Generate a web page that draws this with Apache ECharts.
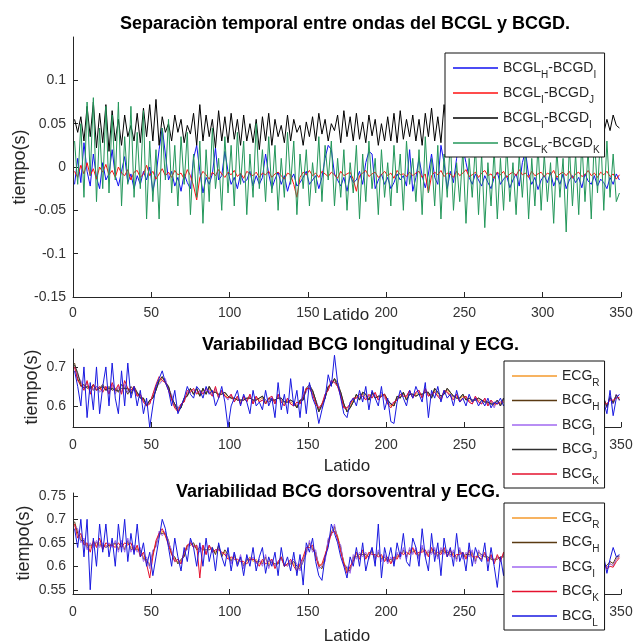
<!DOCTYPE html>
<html>
<head>
<meta charset="utf-8">
<script src="https://cdn.jsdelivr.net/npm/echarts@6/dist/echarts.min.js"></script>
<style>
  html, body { margin: 0; padding: 0; background: #fff; }
  #chart { width: 635px; height: 642px; }
</style>
</head>
<body>
<div id="chart"></div>
<script>
// Beat numbers (every second beat is stored)
const beats = [];
for (let b = 1; b <= 349; b += 2) beats.push(b);

// ---- Top panel: time separation BCGL - BCGD (milliseconds) ----
const sepLH_DI = [
  -20,10,-18,28,-5,-22,15,-12,-25,5,
  -15,-8,20,-10,-22,-5,12,-18,-8,-25,
  -10,-20,-5,-15,0,-28,-10,20,45,15,
  -15,-5,-22,-12,-28,-8,-18,-25,10,25,
  -5,-30,-12,-20,-8,22,-15,-10,18,-5,
  -20,-12,-25,-8,-18,-15,-5,-22,-10,-20,
  -12,15,-8,-25,-14,-6,-20,-10,-28,-15,
  -8,-22,-18,-12,-5,-20,-15,-10,-25,-12,
  10,25,20,-8,-15,-22,-12,-28,-10,-18,
  -15,-5,-20,5,18,15,-25,-15,-8,-20,
  -12,-25,-18,-8,-15,-10,-22,20,-28,-12,
  10,-10,-24,-8,15,-12,-20,25,5,-25,
  -5,-18,10,28,22,5,-12,-20,-8,-15,
  -22,-10,-18,-25,-12,-6,-20,-14,-10,-24,
  -15,-8,-22,5,18,-10,-20,-12,-26,-15,
  -10,-18,-6,-22,-12,-20,-8,-25,-15,-10,
  -18,-12,-24,-8,-16,-20,-10,-22,-14,-18,
  -25,-12,-20,-8,-15
];
const sepLI_DJ = [
  -5,-12,2,-8,5,-10,-2,-14,0,-6,
  3,-9,-4,-12,0,-7,-10,-3,-15,-6,
  -4,-12,-8,2,-10,-5,-14,-8,-2,-10,
  -6,-12,-4,-9,-7,-14,-3,-10,-22,-38,
  -12,-5,-9,-14,-6,-10,-3,-8,-12,-6,
  -9,-4,-11,-7,-13,-5,-8,-10,-6,-12,
  -7,-9,-5,-12,-8,-6,-10,-14,-7,-9,
  -20,-35,-12,-6,-9,-4,-10,-7,-12,-5,
  -8,-11,-6,-9,-13,-5,-10,-8,-6,-14,
  -28,-10,-7,-4,-11,-8,-6,-12,-9,-5,
  -10,-7,-13,-4,-9,-8,-11,-6,-10,-7,
  -5,-12,-8,-30,-10,-6,-9,-4,-11,-7,
  -8,-12,-5,-10,-7,-3,-11,-9,-6,-12,
  -7,-4,-10,-8,-13,-6,-9,-5,-12,-8,
  -6,-10,-3,-9,-7,-12,-5,-10,-8,-6,
  -11,-7,-9,-4,-12,-8,-6,-10,-5,-13,
  -8,-6,-11,-9,-4,-10,-7,-12,-6,-9,
  -5,-11,-8,-14,-9
];
const sepLI_DI = [
  55,40,58,30,70,35,75,22,62,28,
  72,18,65,30,55,25,60,35,48,30,
  62,28,68,35,72,30,78,25,58,40,
  50,30,60,40,55,28,48,38,62,25,
  72,30,60,35,55,22,65,30,58,28,
  62,32,55,25,60,30,50,28,55,20,
  58,30,62,25,55,35,48,28,60,30,
  55,40,48,25,52,35,58,30,62,38,
  55,30,50,42,60,28,65,35,58,30,
  62,32,52,28,60,36,55,25,50,30,
  58,30,62,28,65,32,55,35,60,30,
  55,25,62,35,68,30,58,28,72,38,
  60,30,55,35,62,28,58,40,52,30,
  60,35,55,28,62,32,58,36,50,30,
  58,30,62,34,55,28,60,35,52,30,
  62,30,56,36,60,28,55,40,58,32,
  60,36,55,30,62,38,58,35,65,40,
  55,42,60,48,45
];
const sepLK_DK = [
  30,-20,50,-35,75,-10,80,-40,45,-25,
  70,-30,60,-15,75,-45,35,-20,70,-35,
  40,-25,65,-60,30,-40,20,-60,45,-15,
  55,-30,25,-45,35,-20,40,-55,15,-35,
  30,-65,20,-40,45,-25,10,-50,35,-30,
  25,-45,40,-20,30,-55,15,-35,50,-25,
  20,-40,35,-30,25,-50,10,-35,40,-20,
  30,-55,15,-25,20,-45,5,-30,35,-40,
  25,-15,30,-45,10,-35,20,-50,5,-30,
  25,-60,15,-40,30,-25,10,-55,20,-35,
  5,-45,25,-30,15,-50,30,-20,10,-40,
  20,-55,35,-30,10,-45,25,-60,15,-35,
  30,-50,5,-40,20,-65,10,-35,25,-55,
  15,-70,5,-45,20,-60,10,-50,25,-40,
  5,-55,15,-35,20,-60,10,-45,25,-50,
  15,-40,5,-65,20,-35,10,-75,25,-45,
  15,-55,30,-40,20,-60,35,-30,40,-50,
  30,-35,15,-40,-30
];

// ---- Middle panel: longitudinal BCG and ECG intervals (milliseconds) ----
const lonECG_R = [
  700,680,660,650,655,645,650,645,640,650,
  645,640,650,635,645,640,650,640,635,645,
  630,625,615,605,610,625,645,660,670,665,
  645,625,600,590,600,615,630,640,635,640,
  630,640,635,645,630,640,625,635,630,620,
  625,615,620,610,620,615,625,610,620,615,
  620,610,615,620,610,625,615,605,615,610,
  605,600,610,620,640,650,635,610,590,600,
  625,645,660,665,655,630,600,590,600,615,
  625,620,630,625,620,630,625,620,630,625,
  610,600,605,620,625,630,620,635,625,630,
  635,625,640,630,625,640,630,620,635,640,
  630,620,625,615,625,620,615,610,620,615,
  610,615,605,610,600,610,605,615,608,612,
  610,615,612,620,615,610,618,612,620,615,
  612,618,610,615,620,612,616,610,615,612,
  610,615,608,612,605,610,600,612,605,615,
  600,620,610,625,618
];
const lonBCG_H = [
  710,670,650,655,645,650,640,650,645,655,
  640,650,640,645,635,655,645,630,650,640,
  635,620,620,600,615,620,640,665,675,660,
  650,620,605,595,595,620,625,645,630,645,
  625,645,630,650,635,635,630,630,635,625,
  620,620,615,615,615,620,620,615,615,620,
  625,615,610,615,615,620,620,610,610,615,
  610,595,615,615,645,655,640,615,585,600,
  620,650,655,670,660,635,605,585,595,610,
  630,615,635,630,615,635,620,625,625,630,
  615,605,600,625,620,635,615,630,630,625,
  630,630,635,635,620,645,635,625,630,645,
  635,625,620,620,630,615,620,615,615,620,
  615,610,610,605,605,615,600,620,605,615,
  605,620,608,625,610,615,612,618,615,620,
  615,612,615,610,625,608,620,605,620,608,
  605,620,603,617,600,615,595,617,600,620,
  595,625,605,630,615
];
const lonBCG_I = [
  700,675,665,645,660,635,645,650,635,645,
  650,635,655,630,650,635,655,635,640,640,
  625,630,610,610,605,630,650,655,665,670,
  640,630,595,595,605,610,635,635,640,635,
  635,635,640,640,625,645,620,640,625,615,
  630,610,625,605,625,610,630,605,625,610,
  615,615,610,625,605,630,610,600,620,605,
  600,605,605,625,635,655,630,615,595,595,
  630,640,665,660,660,625,595,595,605,620,
  620,625,625,620,625,625,630,615,635,620,
  605,605,610,615,630,625,625,640,620,635,
  640,620,645,625,630,635,625,615,640,635,
  625,625,630,610,620,625,610,605,625,610,
  605,620,600,615,595,615,600,620,603,617,
  605,620,607,625,610,615,613,617,615,620,
  607,623,605,620,615,617,611,615,610,617,
  605,620,603,617,600,615,595,617,600,620,
  595,625,605,630,613
];
const lonBCG_J = [
  705,685,655,645,650,645,655,640,645,650,
  640,645,645,640,640,645,645,645,630,650,
  635,620,620,600,615,620,640,665,675,660,
  650,620,605,585,595,620,625,645,630,645,
  625,645,630,650,635,635,630,630,635,625,
  620,620,615,615,615,620,620,615,615,620,
  625,605,620,615,615,620,620,610,610,615,
  610,595,615,615,645,645,640,615,585,605,
  620,650,655,670,650,635,605,585,595,610,
  630,615,635,630,615,635,620,625,625,630,
  615,605,600,625,620,635,615,630,630,625,
  630,630,635,635,620,645,635,625,630,645,
  635,625,620,620,630,615,620,615,615,620,
  615,610,610,605,605,615,600,620,605,615,
  605,620,608,625,610,615,612,618,615,620,
  615,612,615,610,625,608,620,605,620,608,
  605,620,603,617,600,615,595,617,600,620,
  598,622,608,628,616
];
const lonBCG_K = [
  700,665,655,640,665,630,655,640,650,635,
  650,630,660,640,655,630,665,645,640,650,
  625,630,610,600,605,630,655,675,665,660,
  640,615,595,585,605,610,640,635,645,630,
  640,630,645,635,625,650,620,640,625,620,
  630,610,625,605,625,610,630,605,625,610,
  615,605,620,625,605,630,610,600,620,605,
  600,610,605,625,645,645,630,605,595,605,
  630,640,665,660,650,625,595,595,605,620,
  620,630,625,615,630,620,635,615,625,630,
  605,595,610,615,630,625,625,640,620,635,
  640,620,645,625,630,635,625,615,640,635,
  625,615,630,610,620,625,610,605,625,610,
  605,620,600,615,605,605,610,610,612,605,
  615,610,618,612,620,605,615,620,612,618,
  610,620,605,618,612,615,610,620,608,615,
  615,608,612,605,610,615,605,608,612,610,
  605,615,615,620,622
];
const lonBCG_L = [
  690,650,600,700,570,660,590,700,580,650,
  700,600,710,620,580,690,600,710,620,650,
  600,640,580,620,545,600,650,670,690,660,
  640,600,640,580,600,620,650,630,620,650,
  640,620,650,630,640,600,620,650,610,545,
  600,620,640,600,630,610,580,640,600,610,
  590,640,600,620,570,660,590,630,580,670,
  600,640,570,650,580,660,620,600,555,590,
  620,680,650,730,660,620,580,570,610,620,
  600,640,610,650,590,640,620,600,650,590,
  620,560,555,610,640,620,600,640,620,650,
  630,610,660,570,640,620,650,610,640,620,
  630,600,640,610,620,600,630,610,620,600,
  615,600,620,595,610,605,620,600,615,610,
  600,630,605,620,590,625,610,600,630,610,
  620,600,635,605,615,590,630,610,600,625,
  605,625,595,615,600,630,590,620,600,610,
  580,640,575,620,630
];

// ---- Bottom panel: dorsoventral BCG and ECG intervals (milliseconds) ----
const dvECG_R = [
  690,675,660,650,645,640,650,645,650,640,
  645,640,650,645,640,645,640,650,640,635,
  640,630,620,610,605,625,650,665,675,665,
  650,630,615,610,610,625,640,650,645,640,
  635,640,630,640,635,630,640,625,630,620,
  615,620,610,615,605,610,620,610,615,605,
  610,615,605,612,600,610,615,605,600,610,
  605,595,600,615,635,645,640,625,605,600,
  620,650,675,680,665,635,610,590,595,615,
  625,620,630,620,625,630,620,625,620,615,
  615,610,615,620,625,630,625,630,635,630,
  625,635,630,625,635,630,625,630,635,625,
  630,625,620,630,625,620,630,625,615,625,
  620,625,615,620,610,620,615,625,610,620,
  615,620,610,618,612,620,608,615,612,618,
  610,615,608,612,605,610,602,608,600,606,
  602,608,598,605,600,606,598,604,600,605,
  598,605,602,615,620
];
const dvBCG_H = [
  695,670,655,655,640,645,645,650,645,645,
  640,645,645,650,635,650,635,655,635,640,
  635,635,615,615,600,630,645,670,670,670,
  655,625,620,605,615,620,645,645,650,635,
  640,635,635,635,640,625,645,620,635,625,
  610,625,605,620,600,615,615,615,610,610,
  605,620,600,610,605,605,620,600,605,605,
  610,600,595,610,630,650,635,630,600,595,
  615,655,670,685,660,640,605,595,590,620,
  620,625,625,625,620,635,615,630,615,620,
  610,615,610,625,620,635,620,635,630,635,
  620,640,625,630,630,635,620,635,630,630,
  625,630,615,635,620,625,625,630,610,630,
  625,620,620,615,615,615,620,620,615,615,
  620,615,615,612,616,615,613,610,616,614,
  615,610,613,608,610,605,606,604,604,602,
  606,604,601,602,604,602,602,600,604,600,
  602,610,606,620,622
];
const dvBCG_I = [
  685,680,650,660,635,650,640,655,640,650,
  640,650,640,655,630,655,630,660,630,645,
  630,640,610,620,595,635,640,675,665,675,
  650,635,610,615,605,630,635,655,640,645,
  630,645,625,645,630,635,635,630,625,625,
  605,630,600,625,595,620,610,620,605,615,
  600,625,595,615,600,610,615,605,600,610,
  615,605,590,615,625,655,630,635,595,600,
  610,660,665,690,655,645,600,600,585,625,
  615,630,620,630,615,640,610,635,610,625,
  605,620,605,630,615,640,615,640,625,640,
  615,645,620,635,625,640,615,640,625,635,
  620,635,610,640,615,630,620,635,605,635,
  620,625,615,620,610,620,615,625,610,620,
  615,620,610,617,611,620,608,615,611,619,
  610,615,608,613,605,610,601,609,599,607,
  601,609,597,606,599,607,597,605,599,606,
  597,606,601,616,621
];
const dvBCG_K = [
  690,660,670,645,650,630,655,640,660,635,
  650,645,645,640,650,640,650,645,650,630,
  645,620,630,605,575,620,655,670,680,665,
  645,625,610,615,605,630,645,650,640,645,
  575,645,625,645,630,635,635,630,625,615,
  620,615,615,610,610,605,615,615,610,600,
  615,605,610,615,595,610,620,600,605,615,
  600,590,605,620,640,640,645,620,600,605,
  625,645,670,675,660,630,605,585,600,610,
  630,615,635,615,630,625,625,620,625,610,
  620,605,620,615,630,625,630,625,640,625,
  630,630,635,620,640,625,630,625,640,620,
  635,620,625,625,630,615,635,620,620,620,
  615,630,610,625,605,625,610,630,605,625,
  610,625,605,620,608,625,603,620,608,622,
  605,620,603,615,600,615,598,612,596,610,
  598,612,595,608,596,610,594,608,596,610,
  594,600,598,610,618
];
const dvBCG_L = [
  680,640,700,620,700,550,660,600,690,630,
  690,620,660,600,690,630,700,610,670,625,
  690,620,650,600,630,580,620,660,700,680,
  640,600,660,620,590,640,610,660,640,600,
  650,600,660,610,640,590,650,620,600,640,
  590,630,600,620,580,625,600,640,590,620,
  640,585,620,600,630,580,640,600,620,590,
  630,580,625,560,650,630,660,610,580,570,
  620,640,690,670,650,620,600,575,620,600,
  640,600,650,590,620,640,600,690,575,640,
  610,640,600,650,620,670,610,600,660,640,
  600,680,620,590,670,610,650,580,660,620,
  640,600,670,610,630,590,650,600,640,620,
  610,650,590,640,600,555,620,580,640,600,
  620,640,600,650,610,630,590,640,600,620,
  590,630,600,640,580,620,600,630,590,620,
  600,630,590,615,595,625,590,610,600,620,
  585,615,640,620,625
];

// ---- Labels and colours ----
const titles = [
  'Separaciòn temporal entre ondas del BCGL y BCGD.',
  'Variabilidad BCG longitudinal y ECG.',
  'Variabilidad BCG dorsoventral y ECG.'
];
const xName = 'Latido';
const yName = 'tiempo(s)';

const FONT = '"Liberation Sans", Arial, Helvetica, sans-serif';
const INK = '#262626';

function pairs(ms) {
  return ms.map((v, i) => [beats[i], v / 1000]);
}

// "BCGL_H-BCGD_I" -> rich text with subscripts
function subFormatter(name) {
  return name.split(/(_[A-Z])/).filter(Boolean).map(p =>
    p[0] === '_' ? '{s|' + p.slice(1) + '}' : '{n|' + p + '}'
  ).join('');
}

const legendText = {
  color: INK,
  fontFamily: FONT,
  fontSize: 14,
  rich: {
    n: { fontSize: 14, fontFamily: FONT, color: INK, verticalAlign: 'top', lineHeight: 22, padding: [4, 0, 0, 0] },
    s: { fontSize: 10, fontFamily: FONT, color: INK, verticalAlign: 'top', lineHeight: 22, padding: [13, 0, 0, 0] }
  }
};

function legendBox(left, top, names, gap) {
  return {
    orient: 'vertical',
    left: left, top: top,
    data: names,
    icon: 'rect',
    itemWidth: 45, itemHeight: 1.5, itemGap: gap,
    padding: [4, 5, 2, 8],
    backgroundColor: '#ffffff',
    borderColor: '#111',
    borderWidth: 1,
    borderRadius: 0,
    selectedMode: false,
    formatter: subFormatter,
    textStyle: legendText,
    z: 10
  };
}

function xAx(grid, margin) {
  return {
    type: 'value', gridIndex: grid, min: 0, max: 350, interval: 50,
    axisLine: { show: true, onZero: false, lineStyle: { color: INK, width: 1 } },
    axisTick: { show: true, inside: true, length: 5, lineStyle: { color: INK } },
    axisLabel: { margin: margin, fontSize: 14, color: '#333', fontFamily: FONT, hideOverlap: false },
    splitLine: { show: false }
  };
}

function yAx(grid, extra) {
  return Object.assign({
    type: 'value', gridIndex: grid, scale: true,
    axisLine: { show: true, onZero: false, lineStyle: { color: INK, width: 1 } },
    axisTick: { show: true, inside: true, length: 5, lineStyle: { color: INK } },
    splitLine: { show: false }
  }, extra);
}

function line(name, data, color, x, y) {
  return {
    type: 'line', name: name, data: pairs(data),
    xAxisIndex: x, yAxisIndex: y,
    symbol: 'none', showSymbol: false,
    lineStyle: { color: color, width: 1 },
    itemStyle: { color: color },
    animation: false, silent: true, z: 2
  };
}

const C = {
  blue: '#1010f0', red: '#ff1010', black: '#000000', green: '#23975a',
  orange: '#f59a2c', brown: '#5a3a12', violet: '#a068f0', dark: '#303030',
  crimson: '#e5122e', navy: '#1818e0'
};

const chart = echarts.init(document.getElementById('chart'), null, { renderer: 'canvas' });

chart.setOption({
  backgroundColor: '#ffffff',
  animation: false,
  textStyle: { fontFamily: FONT },
  title: [
    { text: titles[0], left: 120, top: 15, padding: 0,
      textStyle: { fontSize: 18, fontWeight: 'bold', color: '#000', fontFamily: FONT } },
    { text: titles[1], left: 202, top: 336, padding: 0,
      textStyle: { fontSize: 18, fontWeight: 'bold', color: '#000', fontFamily: FONT } },
    { text: titles[2], left: 176, top: 483, padding: 0,
      textStyle: { fontSize: 18, fontWeight: 'bold', color: '#000', fontFamily: FONT } }
  ],
  grid: [
    { left: 73, top: 37, width: 548, height: 260, outerBoundsMode: 'none', containLabel: false },
    { left: 73, top: 349, width: 548, height: 78, outerBoundsMode: 'none', containLabel: false },
    { left: 73, top: 493, width: 548, height: 101, outerBoundsMode: 'none', containLabel: false }
  ],
  xAxis: [xAx(0, 9), xAx(1, 11), xAx(2, 11)],
  yAxis: [
    yAx(0, { min: -0.15, max: 0.15, interval: 0.05,
      axisLabel: { showMaxLabel: false, margin: 7, fontSize: 14, color: '#333', fontFamily: FONT } }),
    yAx(1, { min: 0.546, max: 0.746, splitNumber: 2,
      axisLabel: { showMinLabel: false, showMaxLabel: false, margin: 7, fontSize: 14, color: '#333', fontFamily: FONT } }),
    yAx(2, { min: 0.541, max: 0.756, splitNumber: 4,
      axisLabel: { showMinLabel: false, showMaxLabel: false, margin: 7, fontSize: 14, color: '#333', fontFamily: FONT } })
  ],
  legend: [
    legendBox(445, 53, ['BCGL_H-BCGD_I', 'BCGL_I-BCGD_J', 'BCGL_I-BCGD_I', 'BCGL_K-BCGD_K'], 2.0),
    legendBox(504, 361, ['ECG_R', 'BCG_H', 'BCG_I', 'BCG_J', 'BCG_K'], 1.5),
    legendBox(504, 503, ['ECG_R', 'BCG_H', 'BCG_I', 'BCG_K', 'BCG_L'], 1.5)
  ],
  series: [
    line('BCGL_H-BCGD_I', sepLH_DI, C.blue, 0, 0),
    line('BCGL_I-BCGD_J', sepLI_DJ, C.red, 0, 0),
    line('BCGL_I-BCGD_I', sepLI_DI, C.black, 0, 0),
    line('BCGL_K-BCGD_K', sepLK_DK, C.green, 0, 0),

    line('ECG_R', lonECG_R, C.orange, 1, 1),
    line('BCG_H', lonBCG_H, C.brown, 1, 1),
    line('BCG_I', lonBCG_I, C.violet, 1, 1),
    line('BCG_J', lonBCG_J, C.dark, 1, 1),
    line('BCG_K', lonBCG_K, C.crimson, 1, 1),
    line('BCG_L', lonBCG_L, C.navy, 1, 1),

    line('ECG_R', dvECG_R, C.orange, 2, 2),
    line('BCG_H', dvBCG_H, C.brown, 2, 2),
    line('BCG_I', dvBCG_I, C.violet, 2, 2),
    line('BCG_K', dvBCG_K, C.crimson, 2, 2),
    line('BCG_L', dvBCG_L, C.navy, 2, 2)
  ],
  graphic: [
    { type: 'text', x: 20, y: 167, rotation: Math.PI / 2,
      style: { text: yName, font: '18px ' + FONT, fill: INK, textAlign: 'center', textVerticalAlign: 'middle', align: 'center', verticalAlign: 'middle' } },
    { type: 'text', x: 32, y: 387, rotation: Math.PI / 2,
      style: { text: yName, font: '18px ' + FONT, fill: INK, textAlign: 'center', textVerticalAlign: 'middle', align: 'center', verticalAlign: 'middle' } },
    { type: 'text', x: 24, y: 543, rotation: Math.PI / 2,
      style: { text: yName, font: '18px ' + FONT, fill: INK, textAlign: 'center', textVerticalAlign: 'middle', align: 'center', verticalAlign: 'middle' } },
    { type: 'text', x: 346, y: 315,
      style: { text: xName, font: '17px ' + FONT, fill: INK, textAlign: 'center', textVerticalAlign: 'middle', align: 'center', verticalAlign: 'middle' } },
    { type: 'text', x: 347, y: 466,
      style: { text: xName, font: '17px ' + FONT, fill: INK, textAlign: 'center', textVerticalAlign: 'middle', align: 'center', verticalAlign: 'middle' } },
    { type: 'text', x: 347, y: 636,
      style: { text: xName, font: '17px ' + FONT, fill: INK, textAlign: 'center', textVerticalAlign: 'middle', align: 'center', verticalAlign: 'middle' } }
  ]
});
</script>
</body>
</html>
